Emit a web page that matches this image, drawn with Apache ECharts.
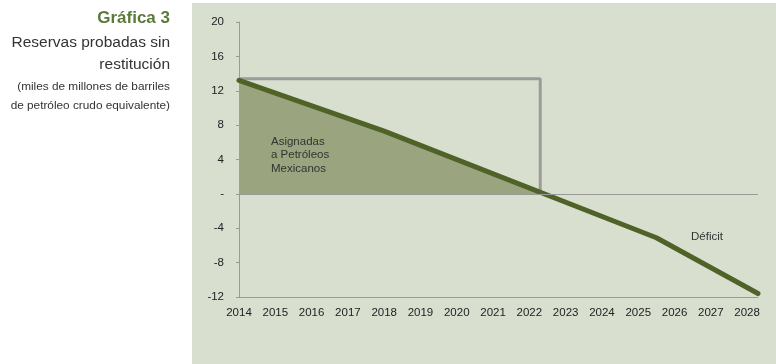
<!DOCTYPE html>
<html>
<head>
<meta charset="utf-8">
<script src="https://cdn.jsdelivr.net/npm/echarts@6/dist/echarts.min.js"></script>
<style>
  html, body { margin: 0; padding: 0; background: #fff; }
  #chart { width: 776px; height: 364px; }
</style>
</head>
<body>
<div id="chart"></div>
<script>
// reservas probadas sin restitucion (puntos de quiebre de la linea)
const years = [2014, 2018, 2025.5, 2028.3];
const reserves = [13.2, 7.3, -5.1, -11.6];
// parte positiva (asignadas a Pemex), hasta el cruce con cero
const assignedYears = [2014, 2018, 2022.35];
const assigned = [13.2, 7.3, 0];
// escalon gris: nivel de reservas sin restitucion
const stepYears = [2014, 2022.3, 2022.3];
const stepValues = [13.4, 13.4, 0];
const yTicks = [-12, -8, -4, 0, 4, 8, 12, 16, 20];

const font = "'Liberation Sans', Arial, sans-serif";
const zip = (xs, ys) => xs.map((x, i) => [x, ys[i]]);

const chart = echarts.init(document.getElementById('chart'));

const option = {
  backgroundColor: '#ffffff',
  animation: false,
  textStyle: { fontFamily: font },
  graphic: [
    { type: 'rect', z: -10, shape: { x: 192, y: 3, width: 584, height: 361 }, style: { fill: '#d8dfcf' } },
    { type: 'text', z: 100, right: 606, top: 10, style: { text: 'Gráfica 3', font: 'bold 17px ' + font, fill: '#5b7a3a' } },
    { type: 'text', z: 100, right: 606, top: 35, style: { text: 'Reservas probadas sin', font: '15.5px ' + font, fill: '#333' } },
    { type: 'text', z: 100, right: 606, top: 57, style: { text: 'restitución', font: '15.5px ' + font, fill: '#333' } },
    { type: 'text', z: 100, right: 606, top: 81, style: { text: '(miles de millones de barriles', font: '11.8px ' + font, fill: '#333' } },
    { type: 'text', z: 100, right: 606, top: 100, style: { text: 'de petróleo crudo equivalente)', font: '11.8px ' + font, fill: '#333' } },
    { type: 'text', z: 100, left: 271, top: 135, style: { text: 'Asignadas\na Petróleos\nMexicanos', font: '11.5px ' + font, fill: '#333', lineHeight: 13.5 } },
    { type: 'text', z: 100, left: 691, top: 231, style: { text: 'Déficit', font: '11.5px ' + font, fill: '#333' } }
  ],
  grid: { left: 239, right: 18, top: 22, bottom: 67 },
  xAxis: {
    type: 'value',
    min: 2014,
    max: 2028.3,
    interval: 1,
    axisLine: { onZero: false, lineStyle: { color: '#999', width: 1 } },
    axisTick: { show: false },
    splitLine: { show: false },
    axisLabel: {
      color: '#222',
      fontSize: 11.5,
      margin: 10,
      showMaxLabel: false,
      formatter: v => Number.isInteger(v) ? String(v) : ''
    }
  },
  yAxis: {
    type: 'value',
    min: yTicks[0],
    max: yTicks[yTicks.length - 1],
    interval: 4,
    axisLine: { show: true, lineStyle: { color: '#999', width: 1 } },
    axisTick: { show: true, length: 3, lineStyle: { color: '#999' } },
    splitLine: { show: false },
    axisLabel: {
      color: '#222',
      fontSize: 11.5,
      margin: 15,
      formatter: v => v === 0 ? '-' : String(v)
    }
  },
  series: [
    {
      name: 'Asignadas',
      type: 'line',
      data: zip(assignedYears, assigned),
      symbol: 'none',
      lineStyle: { width: 0 },
      areaStyle: { color: '#9aa47f', opacity: 1 },
      z: 1
    },
    {
      name: 'Restitución',
      type: 'line',
      data: zip(stepYears, stepValues),
      symbol: 'none',
      lineStyle: { color: '#9b9c9a', width: 3 },
      z: 2,
      markLine: {
        silent: true,
        symbol: 'none',
        label: { show: false },
        lineStyle: { color: '#999', width: 1, type: 'solid' },
        data: [{ yAxis: 0 }]
      }
    },
    {
      name: 'Reservas',
      type: 'line',
      data: zip(years, reserves),
      symbol: 'none',
      lineStyle: { color: '#4f6228', width: 5, cap: 'round' },
      z: 3
    }
  ]
};

chart.setOption(option);
</script>
</body>
</html>
